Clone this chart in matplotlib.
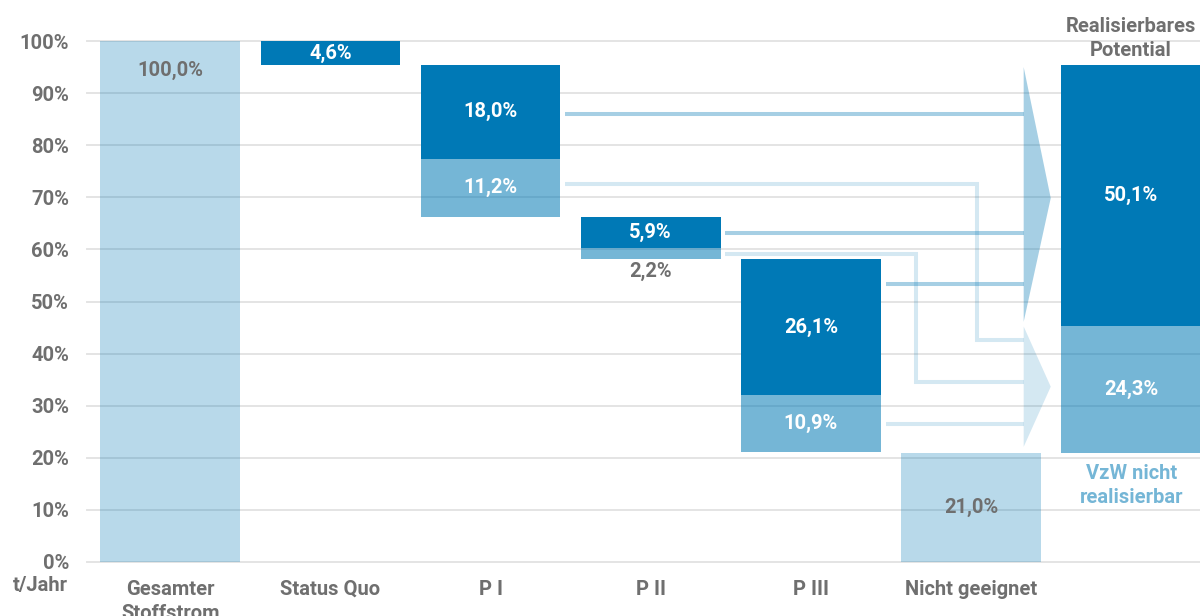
import numpy as np
import matplotlib
matplotlib.use("Agg")
import matplotlib.pyplot as plt
from matplotlib.patches import Polygon

plt.rcParams['font.family'] = ['Roboto', 'DejaVu Sans']
plt.rcParams['font.weight'] = 'bold'

# data (shares of total material flow, %)
categories = ["Gesamter\nStoffstrom", "Status Quo", "P I", "P II", "P III", "Nicht geeignet", ""]
total = 100.0
status_quo = 4.6
realisable = [18.0, 5.9, 26.1]      # P I, P II, P III (dark part)
not_realisable = [11.2, 2.2, 10.9]  # P I, P II, P III (light part)
unsuitable = 21.0
pot_realisable = 50.1
pot_not_realisable = 24.3
yticks = [0, 10, 20, 30, 40, 50, 60, 70, 80, 90, 100]

DARK = "#0079b6"
BASE = "#0078b4"
GRAY = "#6f6f6f"
W = 0.873
FS = 14.5

# where the flow lines leave each bar (layout only)
dark_line_y = [86.0, 63.2, 53.4]
light_line_y = [72.6, 59.1, 26.4]
light_drop_x = [5.04, 4.656, None]
light_drop_y = [42.6, 34.6, None]


def pct(v):
    return f"{v:.1f}".replace(".", ",") + "%"


fig = plt.figure(figsize=(12, 6.16), dpi=100)
ax = fig.add_axes([0.0725, 0.0877, 0.9275, 0.8457])
ax.set_xlim(-0.52, 6.43)
ax.set_ylim(0, 100)

for y in yticks:
    ax.axhline(y, color="#e4e4e4", lw=1.4, zorder=0, clip_on=False)

# total
ax.bar(0, total, W, color=BASE, alpha=0.28, lw=0, zorder=2)
ax.text(0, total - 5.6, pct(total), ha="center", va="center", color=GRAY, fontsize=FS)

# status quo
top = total - status_quo
ax.bar(1, status_quo, W, bottom=top, color=DARK, lw=0, zorder=2)
ax.text(1, top + status_quo / 2, pct(status_quo), ha="center", va="center", color="white", fontsize=FS)

# P I .. P III
for i, (r, n) in enumerate(zip(realisable, not_realisable)):
    x = 2 + i
    dark_bot = top - r
    light_bot = dark_bot - n
    ax.bar(x, r, W, bottom=dark_bot, color=DARK, lw=0, zorder=2)
    ax.bar(x, n, W, bottom=light_bot, color=BASE, alpha=0.54, lw=0, zorder=2)
    ax.text(x, dark_bot + r / 2, pct(r), ha="center", va="center", color="white", fontsize=FS)
    if n < 4:
        ax.text(x, light_bot - 2.4, pct(n), ha="center", va="center", color=GRAY, fontsize=FS)
    else:
        ax.text(x, light_bot + n / 2, pct(n), ha="center", va="center", color="white", fontsize=FS)
    top = light_bot

# not suitable
ax.bar(5, unsuitable, W, color=BASE, alpha=0.28, lw=0, zorder=2)
ax.text(5, unsuitable / 2, pct(unsuitable), ha="center", va="center", color=GRAY, fontsize=FS)

# realisable potential
ax.bar(6, pot_not_realisable, W, bottom=unsuitable, color=BASE, alpha=0.54, lw=0, zorder=2)
mid = unsuitable + pot_not_realisable
ax.bar(6, pot_realisable, W, bottom=mid, color=DARK, lw=0, zorder=2)
pot_top = mid + pot_realisable
ax.text(6, unsuitable + pot_not_realisable / 2, pct(pot_not_realisable), ha="center", va="center",
        color="white", fontsize=FS)
ax.text(6, mid + pot_realisable / 2, pct(pot_realisable), ha="center", va="center",
        color="white", fontsize=FS)
ax.text(6, pot_top + 1.0, "Realisierbares\nPotential", ha="center", va="bottom", color=GRAY,
        fontsize=FS, linespacing=1.32, clip_on=False)
ax.text(6, unsuitable - 2.2, "VzW nicht\nrealisierbar", ha="center", va="top", color="#75b6d6",
        fontsize=FS, linespacing=1.32)

# flow arrows
x_end = 5.329
x_tip = 5.498
for i in range(3):
    xs = 2 + i + W / 2 + 0.03
    ax.plot([xs, x_end], [dark_line_y[i]] * 2, color=BASE, alpha=0.35, lw=2.9,
            solid_capstyle="butt", zorder=1)
    if light_drop_x[i] is None:
        ax.plot([xs, x_end], [light_line_y[i]] * 2, color=BASE, alpha=0.17, lw=2.9,
                solid_capstyle="butt", zorder=1)
    else:
        ax.plot([xs, light_drop_x[i], light_drop_x[i], x_end],
                [light_line_y[i], light_line_y[i], light_drop_y[i], light_drop_y[i]],
                color=BASE, alpha=0.17, lw=2.9, solid_capstyle="butt", solid_joinstyle="miter",
                zorder=1)

ax.add_patch(Polygon([[x_end, pot_top - 0.4], [x_tip, (pot_top + mid) / 2 - 0.5], [x_end, mid + 0.8]],
                     closed=True, color=BASE, alpha=0.35, lw=0, zorder=1))
ax.add_patch(Polygon([[x_end, mid - 0.1], [x_tip, (mid + unsuitable) / 2 + 0.5], [x_end, unsuitable + 1.1]],
                     closed=True, color=BASE, alpha=0.17, lw=0, zorder=1))

ax.set_yticks(yticks)
ax.set_yticklabels([f"{v}%" for v in yticks], color=GRAY, fontsize=FS)
ax.set_xticks(range(len(categories)))
ax.set_xticklabels(categories, color=GRAY, fontsize=FS, linespacing=1.3)
ax.tick_params(axis="both", length=0)
ax.tick_params(axis="y", pad=13)
ax.tick_params(axis="x", pad=13)
for s in ax.spines.values():
    s.set_visible(False)

ax.text(-0.64, -4.6, "t/Jahr", ha="right", va="center", color=GRAY, fontsize=FS, clip_on=False)

fig.savefig("out.png", dpi=100)
